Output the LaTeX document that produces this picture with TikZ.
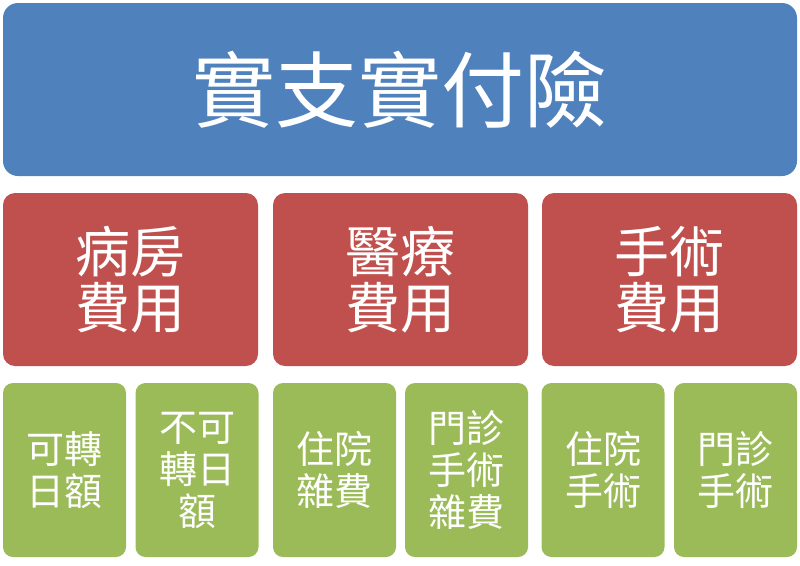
\documentclass[tikz,border=0pt]{standalone}
\usepackage{fontspec}
\newfontfamily\cjk{Noto Sans CJK TC}
\definecolor{topblue}{HTML}{4F81BD}
\definecolor{midred}{HTML}{C0504D}
\definecolor{leafgreen}{HTML}{9BBB59}
\begin{document}
\begin{tikzpicture}[
    x=1pt, y=-1pt,
    box/.style={inner sep=0pt, draw=none, text=white, align=center},
    topbox/.style={box, fill=topblue, rounded corners=15pt,
      minimum width=794pt, minimum height=173pt,
      font=\cjk\fontsize{83}{86}\selectfont},
    midbox/.style={box, fill=midred, rounded corners=12pt,
      minimum width=255pt, minimum height=173pt,
      font=\cjk\fontsize{55}{56}\selectfont},
    leafbox/.style={box, fill=leafgreen, rounded corners=10pt,
      minimum width=123pt, minimum height=174pt,
      font=\cjk\fontsize{38}{42}\selectfont}
  ]
  \useasboundingbox (0,0) rectangle (800,565);

  \node[topbox] (root) at (400,89.5) {實支實付險};

  \node[midbox] (ward) at (130.5,279.5) {病房\\費用};
  \node[midbox] (med)  at (400.5,279.5) {醫療\\費用};
  \node[midbox] (surg) at (669.5,279.5) {手術\\費用};

  \node[leafbox] (wardA) at (64.5,470)  {可轉\\日額};
  \node[leafbox] (wardB) at (197,470)   {不可\\轉日\\額};
  \node[leafbox] (medA)  at (334.5,470) {住院\\雜費};
  \node[leafbox] (medB)  at (466.5,470) {門診\\手術\\雜費};
  \node[leafbox] (surgA) at (603,470)   {住院\\手術};
  \node[leafbox] (surgB) at (735.5,470) {門診\\手術};

\end{tikzpicture}
\end{document}
